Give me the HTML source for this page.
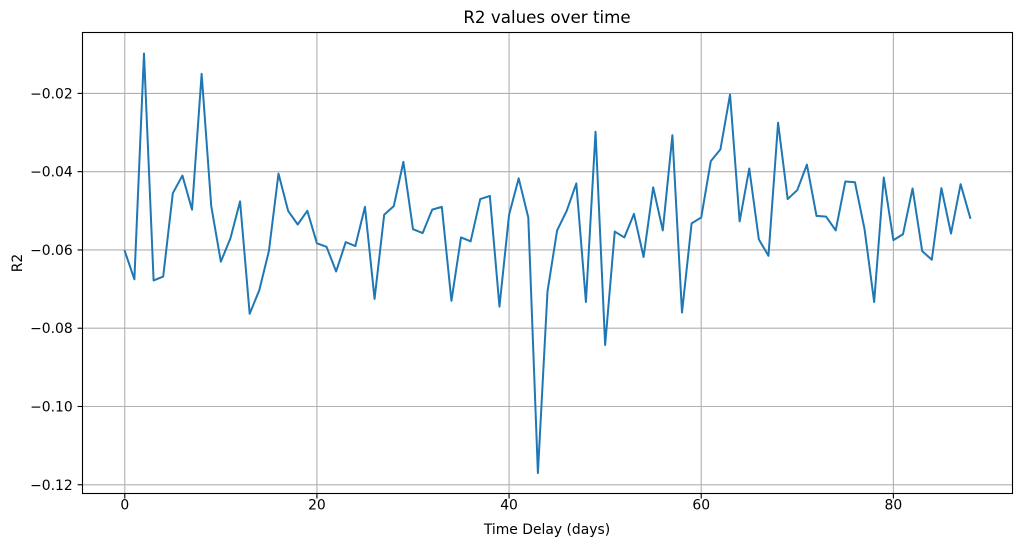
<!DOCTYPE html>
<html><head><meta charset="utf-8"><style>
body{margin:0;background:#fff;font-family:"Liberation Sans","DejaVu Sans",sans-serif;}
svg text{font-family:"DejaVu Sans","Liberation Sans",sans-serif;}
</style></head><body>
<svg id="chart" width="1021" height="547" viewBox="0 0 1021 547" xmlns="http://www.w3.org/2000/svg">
<rect width="1021" height="547" fill="#fff"/>
<g id="grid"></g>
<g id="series"></g>
<rect x="82.5" y="32.5" width="930" height="461" fill="none" stroke="#000" stroke-width="1.1"/>
<g id="xticks"></g><g id="yticks"></g>
<text x="547" y="23" text-anchor="middle" font-size="16.7">R2 values over time</text>
<text x="547" y="534" text-anchor="middle" font-size="13.9">Time Delay (days)</text>
<text transform="translate(22,263) rotate(-90)" text-anchor="middle" font-size="13.9">R2</text>
</svg>
<script>
const r2Values=[-0.0603,-0.0675,-0.0098,-0.0678,-0.0668,-0.0455,-0.041,-0.0497,-0.015,-0.0488,-0.063,-0.057,-0.0476,-0.0763,-0.0703,-0.0603,-0.0405,-0.05,-0.0535,-0.05,-0.0583,-0.0592,-0.0655,-0.058,-0.059,-0.049,-0.0725,-0.051,-0.0488,-0.0375,-0.0547,-0.0557,-0.0497,-0.049,-0.073,-0.0568,-0.0578,-0.047,-0.0462,-0.0745,-0.051,-0.0417,-0.0517,-0.117,-0.0706,-0.055,-0.05,-0.043,-0.0733,-0.0298,-0.0843,-0.0553,-0.0568,-0.0508,-0.0618,-0.044,-0.055,-0.0307,-0.076,-0.0532,-0.0517,-0.0373,-0.0343,-0.0203,-0.0527,-0.0392,-0.0573,-0.0615,-0.0275,-0.047,-0.0447,-0.0382,-0.0513,-0.0515,-0.055,-0.0425,-0.0427,-0.0547,-0.0733,-0.0415,-0.0575,-0.056,-0.0443,-0.0603,-0.0625,-0.0442,-0.0558,-0.0432,-0.0518];
const xTicks=[0,20,40,60,80];
const yTicks=[-0.02,-0.04,-0.06,-0.08,-0.10,-0.12];
const yTickLabels=["−0.02","−0.04","−0.06","−0.08","−0.10","−0.12"];
const L=82.5,R=1012.5,T=32.5,B=494;
const n=r2Values.length;
const xmin=-(n-1)*0.05,xmax=(n-1)*1.05;
const vmin=Math.min(...r2Values),vmax=Math.max(...r2Values),pad=(vmax-vmin)*0.05;
const ymin=vmin-pad,ymax=vmax+pad;
const X=v=>L+(v-xmin)/(xmax-xmin)*(R-L);
const Y=v=>B-(v-ymin)/(ymax-ymin)*(B-T);
const NS="http://www.w3.org/2000/svg";
function mk(tag,attrs,parent){const e=document.createElementNS(NS,tag);for(const k in attrs)e.setAttribute(k,attrs[k]);parent.appendChild(e);return e;}
const grid=document.getElementById('grid'),xt=document.getElementById('xticks'),yt=document.getElementById('yticks'),ser=document.getElementById('series');
xTicks.forEach(t=>{const x=X(t);
 const g=mk('line',{x1:x,x2:x,y1:T,y2:493.5,stroke:'#b0b0b0','stroke-width':1.1},grid);
 
 
 const tk=mk('line',{x1:x,x2:x,y1:493.5,y2:498.5,stroke:'#000','stroke-width':1.1},xt);
 
 
 const tx=mk('text',{x:x,y:B+15.5,'text-anchor':'middle','font-size':13.9},xt);tx.textContent=t;
 
 
});
yTicks.forEach((t,i)=>{const y=Y(t);
 const g=mk('line',{x1:L,x2:R,y1:y,y2:y,stroke:'#b0b0b0','stroke-width':1.1},grid);
 
 
 const tk=mk('line',{x1:L-4.9,x2:L,y1:y,y2:y,stroke:'#000','stroke-width':1.1},yt);
 
 
 const tx=mk('text',{x:L-9.8,y:y+5,'text-anchor':'end','font-size':13.9},yt);tx.textContent=yTickLabels[i];
 
 
});
const pts=r2Values.map((v,i)=>X(i).toFixed(2)+','+Y(v).toFixed(2)).join(' ');
const line=mk('polyline',{points:pts,fill:'none',stroke:'#1f77b4','stroke-width':2,'stroke-linejoin':'round','stroke-linecap':'square'},ser);


</script>
</body></html>
